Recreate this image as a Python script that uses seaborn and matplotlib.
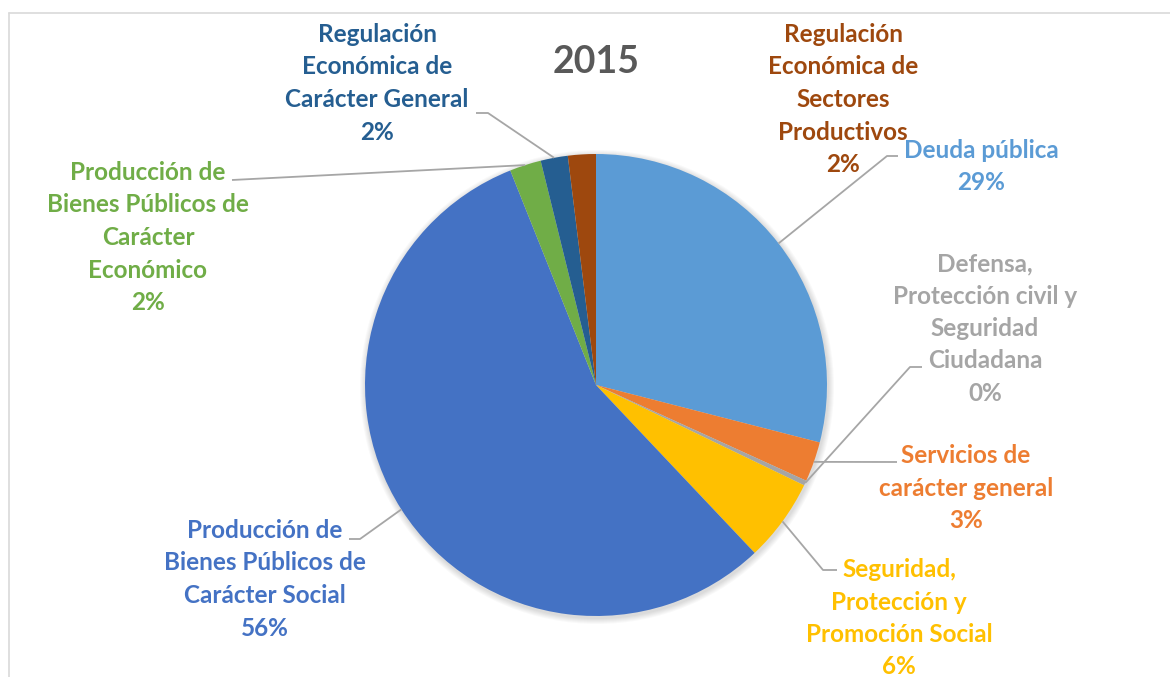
import numpy as np
import seaborn as sns
import matplotlib.pyplot as plt
from matplotlib.lines import Line2D
from matplotlib.patches import Circle

# data
categories = ['Deuda pública', 'Servicios de\ncarácter general',
              'Defensa,\nProtección civil y\nSeguridad\nCiudadana',
              'Seguridad,\nProtección y\nPromoción Social',
              'Producción de\nBienes Públicos de\nCarácter Social',
              'Producción de\nBienes Públicos de\nCarácter\nEconómico',
              'Regulación\nEconómica de\nCarácter General',
              'Regulación\nEconómica de\nSectores\nProductivos']
shares = [29.0, 2.8, 0.35, 5.8, 56.0, 2.2, 1.9, 1.95]
colors = ['#5B9BD5', '#ED7D31', '#A5A5A5', '#FFC000',
          '#4472C4', '#70AD47', '#255E91', '#9E480E']
title = '2015'

# label placement (pixels, y down): text centre x, first line centre y, leader elbow
label_pos = [(981, 150), (966, 455), (985, 263), (899, 569),
             (265, 530), (148, 172), (377, 34), (843, 34)]
leader_elbow = [(887, 156), (897, 462), (910, 367), (823, 570),
                (360, 539), (232, 180), (488, 113), None]
leader_end = [(898, 156), (897, 462), (922, 367), (837, 570),
              (349, 539), (232, 180), (476, 113), None]

W, H = 1170, 677
CX, CY, R = 596, 385, 231

sns.set_theme(style='white')
plt.rcParams['font.family'] = ['Lato', 'DejaVu Sans']

fig = plt.figure(figsize=(W / 100, H / 100), dpi=100)
ax = fig.add_axes([0, 0, 1, 1])

# soft shadow
for k in range(6):
    ax.add_patch(Circle((CX + 1, H - CY - 2), R + 1 + k, color='black',
                        alpha=0.025, lw=0, zorder=0))

ax.pie(shares, colors=colors, startangle=90, counterclock=False,
       center=(CX, H - CY), radius=R, frame=True,
       wedgeprops=dict(linewidth=0))
ax.set_xlim(0, W)
ax.set_ylim(0, H)
ax.set_aspect('equal')
ax.axis('off')

fracs = np.array(shares) / sum(shares)
starts = np.concatenate([[0], np.cumsum(fracs)[:-1]])
mids = (starts + fracs / 2) * 360

for i, cat in enumerate(categories):
    pct = f'{round(fracs[i] * 100):d}%'
    txt = cat + '\n' + pct
    x, y = label_pos[i]
    ax.text(x, H - y + 11, txt, ha='center', va='top', color=colors[i],
            fontsize=17.5, fontweight='bold', linespacing=1.5)
    if leader_elbow[i] is not None:
        a = np.deg2rad(mids[i])
        px, py = CX + R * np.sin(a), CY - R * np.cos(a)
        ex, ey = leader_elbow[i]
        tx, ty = leader_end[i]
        ax.plot([px, ex, tx], [H - py, H - ey, H - ty], color='#A6A6A6',
                lw=1.3, solid_capstyle='butt', zorder=5)

ax.text(CX, H - 62, title, ha='center', va='center', color='#595959',
        fontsize=27, fontweight='bold')

# chart border (clipped at right and bottom)
fig.add_artist(Line2D([9 / W, 1], [1 - 13 / H, 1 - 13 / H],
                      transform=fig.transFigure, color='#D9D9D9', lw=1.2))
fig.add_artist(Line2D([9 / W, 9 / W], [0, 1 - 13 / H],
                      transform=fig.transFigure, color='#D9D9D9', lw=1.2))

fig.savefig('out.png', dpi=100, facecolor='white')
